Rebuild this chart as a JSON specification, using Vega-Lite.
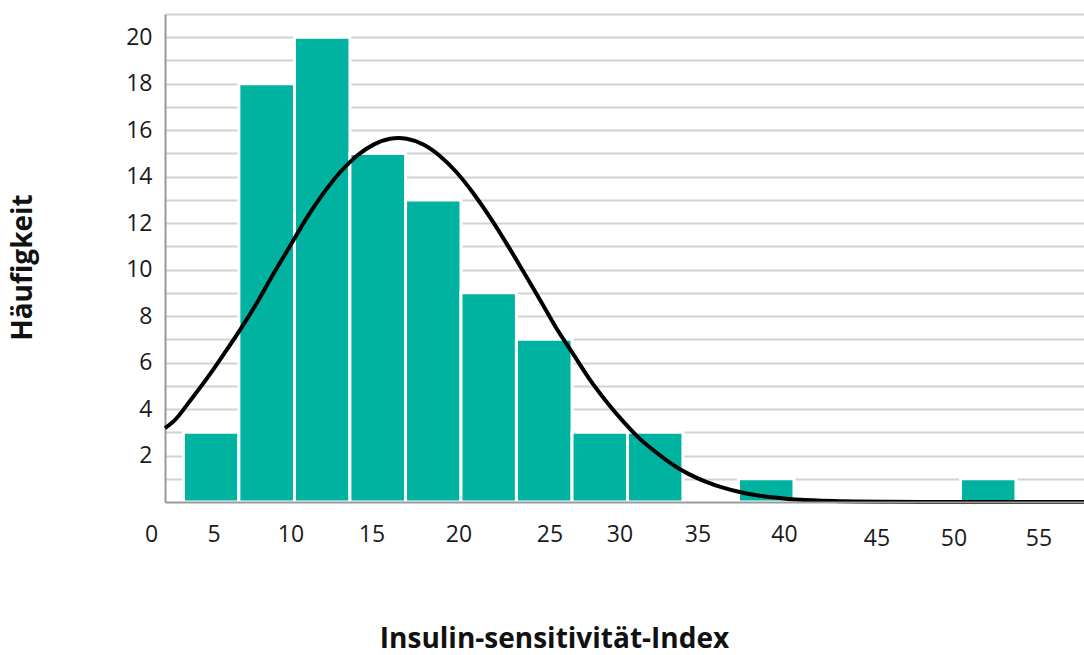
{
  "$schema": "https://vega.github.io/schema/vega-lite/v6.json",
  "width": 919,
  "height": 488,
  "autosize": {"type": "none"},
  "padding": {"left": 165, "top": 14, "right": 0, "bottom": 153},
  "background": "white",
  "config": {"view": {"stroke": null}, "font": "Open Sans"},
  "datasets": {
    "bins": [
      {"bin_start": 3.55, "bin_end": 6.89, "count": 3},
      {"bin_start": 6.89, "bin_end": 10.24, "count": 18},
      {"bin_start": 10.24, "bin_end": 13.58, "count": 20},
      {"bin_start": 13.58, "bin_end": 16.93, "count": 15},
      {"bin_start": 16.93, "bin_end": 20.27, "count": 13},
      {"bin_start": 20.27, "bin_end": 23.61, "count": 9},
      {"bin_start": 23.61, "bin_end": 26.96, "count": 7},
      {"bin_start": 26.96, "bin_end": 30.3, "count": 3},
      {"bin_start": 30.3, "bin_end": 33.64, "count": 3},
      {"bin_start": 36.99, "bin_end": 40.33, "count": 1},
      {"bin_start": 50.36, "bin_end": 53.7, "count": 1}
    ],
    "curve": [
      {"x": 2.44, "density": 3.18},
      {"x": 3, "density": 3.5},
      {"x": 4, "density": 4.4},
      {"x": 5, "density": 5.35},
      {"x": 6, "density": 6.38},
      {"x": 7, "density": 7.45},
      {"x": 8, "density": 8.6},
      {"x": 9, "density": 9.85},
      {"x": 10, "density": 11.05},
      {"x": 11, "density": 12.25},
      {"x": 12, "density": 13.3},
      {"x": 13, "density": 14.2},
      {"x": 14, "density": 14.9},
      {"x": 15, "density": 15.38},
      {"x": 16, "density": 15.63},
      {"x": 16.5, "density": 15.66},
      {"x": 17, "density": 15.63},
      {"x": 18, "density": 15.38},
      {"x": 19, "density": 14.89},
      {"x": 20, "density": 14.19},
      {"x": 21, "density": 13.3},
      {"x": 22, "density": 12.27},
      {"x": 23, "density": 11.14},
      {"x": 24, "density": 9.95},
      {"x": 25, "density": 8.74},
      {"x": 26, "density": 7.5},
      {"x": 27, "density": 6.4},
      {"x": 28, "density": 5.3},
      {"x": 29, "density": 4.35},
      {"x": 30, "density": 3.5},
      {"x": 31, "density": 2.75},
      {"x": 32, "density": 2.15},
      {"x": 33, "density": 1.62},
      {"x": 34, "density": 1.2},
      {"x": 35, "density": 0.88},
      {"x": 36, "density": 0.63},
      {"x": 37, "density": 0.44},
      {"x": 38, "density": 0.3},
      {"x": 39, "density": 0.2},
      {"x": 40, "density": 0.13},
      {"x": 41, "density": 0.085},
      {"x": 42, "density": 0.055},
      {"x": 43, "density": 0.035},
      {"x": 44, "density": 0.022},
      {"x": 46, "density": 0.01},
      {"x": 48, "density": 0.005},
      {"x": 50, "density": 0.002},
      {"x": 53, "density": 0.0},
      {"x": 57.8, "density": 0.0}
    ]
  },
  "layer": [
    {
      "data": {"name": "bins"},
      "mark": {"type": "rect", "color": "#00B3A0", "stroke": "white", "strokeWidth": 3},
      "encoding": {
        "x": {
          "field": "bin_start",
          "type": "quantitative",
          "scale": {"domain": [2.44, 57.8], "nice": false, "zero": false},
          "axis": {
            "values": [2.44, 5, 10, 15, 20, 25, 30, 35, 40, 45, 50, 55],
            "tickCount": 30,
            "format": "d",
            "labelExpr": "datum.value < 3 ? '0' : datum.label",
            "grid": false,
            "ticks": false,
            "tickSize": 0,
            "domainColor": "#9a9a9a",
            "domainWidth": 2,
            "zindex": 1,
            "labelFont": "Open Sans",
            "labelFontSize": 23,
            "labelColor": "#1a1a1a",
            "labelFlush": false,
            "labelOverlap": false,
            "labelBound": false,
            "labelPadding": {"condition": {"test": "datum.value >= 45", "value": 25}, "value": 21},
            "labelOffset": {
              "condition": [
                {"test": "datum.value < 3", "value": -14},
                {"test": "datum.value == 5", "value": 6},
                {"test": "datum.value == 15", "value": -2},
                {"test": "datum.value == 20", "value": 2},
                {"test": "datum.value == 25", "value": 10},
                {"test": "datum.value == 30", "value": -3},
                {"test": "datum.value == 35", "value": -8},
                {"test": "datum.value == 40", "value": -4.5},
                {"test": "datum.value == 45", "value": 5},
                {"test": "datum.value == 50", "value": -1},
                {"test": "datum.value == 55", "value": 1}
              ],
              "value": 0
            },
            "title": "Insulin-sensitivität-Index",
            "titleFont": "Open Sans",
            "titleFontSize": 28,
            "titleFontWeight": "bold",
            "titleColor": "#111111",
            "titleX": 389,
            "titleY": 145,
            "titleAlign": "center",
            "titleBaseline": "alphabetic"
          }
        },
        "x2": {"field": "bin_end"},
        "y": {
          "field": "count",
          "type": "quantitative",
          "scale": {"domain": [0, 21], "nice": false},
          "axis": {
            "values": [1, 2, 3, 4, 5, 6, 7, 8, 9, 10, 11, 12, 13, 14, 15, 16, 17, 18, 19, 20, 21],
            "tickCount": 30,
            "format": "d",
            "labelExpr": "datum.value % 2 == 0 && datum.value <= 20 ? datum.label : ''",
            "grid": true,
            "gridColor": "#d2d2d2",
            "gridWidth": 2,
            "ticks": false,
            "tickSize": 0,
            "domainColor": "#9a9a9a",
            "domainWidth": 2,
            "labelFont": "Open Sans",
            "labelFontSize": 23,
            "labelColor": "#1a1a1a",
            "labelPadding": 13,
            "labelFlush": false,
            "labelOverlap": false,
            "title": "Häufigkeit",
            "titleFont": "Open Sans",
            "titleFontSize": 28,
            "titleFontWeight": "bold",
            "titleColor": "#111111",
            "titleAngle": -90,
            "titleX": -142,
            "titleY": 253,
            "titleAlign": "center",
            "titleBaseline": "middle"
          }
        }
      }
    },
    {
      "data": {"name": "curve"},
      "mark": {"type": "line", "color": "black", "strokeWidth": 4, "interpolate": "monotone"},
      "encoding": {
        "x": {"field": "x", "type": "quantitative"},
        "y": {"field": "density", "type": "quantitative"}
      }
    }
  ]
}
